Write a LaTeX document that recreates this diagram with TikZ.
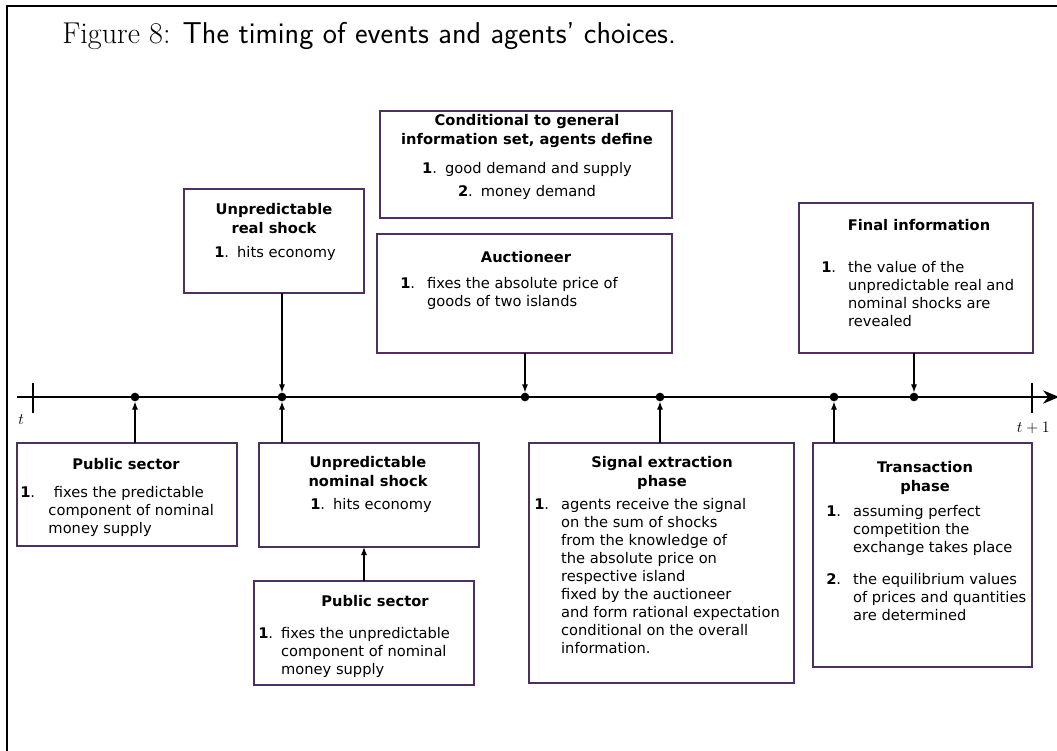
\documentclass[tikz,border=0pt]{standalone}
\usepackage{fontspec}
\newfontfamily\bodyfont{DejaVu Sans}
\usetikzlibrary{arrows.meta}
\definecolor{boxcol}{RGB}{78,48,92}
\newcommand\mybox[5]{\node[box, minimum width={(#4-#2)*0.75pt}, minimum height={(#5-#3)*0.75pt}] (#1) at ({(#2+#4)/2},{(#3+#5)/2}) {};}
\begin{document}
\begin{tikzpicture}[x=0.75pt,y=-0.75pt,
 box/.style={draw=boxcol, line width=1.1pt, inner sep=0, outer sep=0},
 dot/.style={circle, fill=black, inner sep=0, minimum size=6.5pt},
 conn/.style={line width=0.8pt, -{Latex[length=6pt,width=4.5pt]}},
 txt/.style={font=\bodyfont\fontsize{11}{13.5}\selectfont, inner sep=0, anchor=base west},
 ttl/.style={font=\bodyfont\bfseries\fontsize{11}{14.5}\selectfont, inner sep=0, anchor=base},
 ]
\useasboundingbox (0,0) rectangle (1057,750);
\draw[line width=1.5pt] (7,752) -- (7,6) -- (1059,6);
\node[anchor=base west, inner sep=0, font=\fontsize{22.6}{26}\selectfont] (title) at (62,43) {Figure 8: \textsf{The timing of events and agents' choices.}};

% timeline
\coordinate (tl0) at (17,397);
\coordinate (tl1) at (1059,397);
\draw[line width=1.3pt, -{Stealth[length=12pt,width=10pt]}] (tl0) -- (tl1);
\draw[line width=0.9pt] (33,383) -- (33,413);
\draw[line width=0.9pt] (1032,383) -- (1032,413);
\node[anchor=base west, inner sep=0, font=\fontsize{12}{14}\selectfont] (tlab) at (18,424) {$t$};
\node[anchor=base east, inner sep=0, font=\fontsize{12}{14}\selectfont] (t1lab) at (1050,432) {$t+1$};

\node[dot] (d1) at (135,397) {};
\node[dot] (d2) at (282,397) {};
\node[dot] (d3) at (525,397) {};
\node[dot] (d4) at (660,397) {};
\node[dot] (d5) at (834,397) {};
\node[dot] (d6) at (914,397) {};

% boxes
\mybox{real}{184}{189}{364}{293}
\mybox{cond}{380}{111}{672}{218}
\mybox{auct}{377}{234}{672}{353}
\mybox{final}{799}{203}{1033}{353}
\mybox{psl}{17}{443}{237}{546}
\mybox{nom}{259}{443}{479}{547}
\mybox{psu}{254}{581}{474}{685}
\mybox{sig}{529}{443}{794}{683}
\mybox{trans}{813}{443}{1032}{667}

% connectors
\draw[conn] (real.south -| d2) -- (d2);
\draw[conn] (auct.south -| d3) -- (d3);
\draw[conn] (final.south -| d6) -- (d6);
\draw[conn] (psl.north -| d1) -- (d1);
\draw[conn] (nom.north -| d2) -- (d2);
\draw[conn] (psu.north) -- (psu.north |- nom.south);
\draw[conn] (sig.north -| d4) -- (d4);
\draw[conn] (trans.north -| d5) -- (d5);

% texts
\node[ttl] (realT) at (274,214) {\begin{tabular}[t]{@{}c@{}}Unpredictable\\real shock\end{tabular}};
\node[txt] (realI) at (214,257) {\textbf{1}.\hspace{6pt}hits economy};

\node[ttl] (condT) at (527,125) {\begin{tabular}[t]{@{}c@{}}Conditional to general\\information set, agents define\end{tabular}};
\node[txt, anchor=base] (condI) at (527,173) {\begin{tabular}[t]{@{}c@{}}\textbf{1}.\hspace{6pt}good demand and supply\\[4pt]\textbf{2}.\hspace{6pt}money demand\end{tabular}};

\node[ttl] (auctT) at (526,262) {Auctioneer};
\node[txt] (auctI) at (400,288) {\begin{tabular}[t]{@{}l@{\hspace{9pt}}l@{}}\textbf{1}. & fixes the absolute price of\\ & goods of two islands\end{tabular}};

\node[ttl] (finT) at (919,230) {Final information};
\node[txt] (finI) at (821,272) {\begin{tabular}[t]{@{}l@{\hspace{9pt}}l@{}}\textbf{1}. & the value of the\\ & unpredictable real and\\ & nominal shocks are\\ & revealed\end{tabular}};

\node[ttl] (pslT) at (126,469) {Public sector};
\node[txt] (pslI) at (20,497) {\begin{tabular}[t]{@{}l@{\hspace{10pt}}l@{}}\textbf{1}. & \hspace{4pt}fixes the predictable\\ & component of nominal\\ & money supply\end{tabular}};

\node[ttl] (nomT) at (368,467) {\begin{tabular}[t]{@{}c@{}}Unpredictable\\nominal shock\end{tabular}};
\node[txt] (nomI) at (310,509) {\textbf{1}.\hspace{6pt}hits economy};

\node[ttl] (psuT) at (375,606) {Public sector};
\node[txt] (psuI) at (258,638) {\begin{tabular}[t]{@{}l@{\hspace{6pt}}l@{}}\textbf{1}. & fixes the unpredictable\\ & component of nominal\\ & money supply\end{tabular}};

\node[ttl] (sigT) at (662,467) {\begin{tabular}[t]{@{}c@{}}Signal extraction\\phase\end{tabular}};
\node[txt] (sigI) at (534,509) {\begin{tabular}[t]{@{}l@{\hspace{9pt}}l@{}}\textbf{1}. & agents receive the signal\\ & on the sum of shocks\\ & from the knowledge of\\ & the absolute price on\\ & respective island\\ & fixed by the auctioneer\\ & and form rational expectation\\ & conditional on the overall\\ & information.\end{tabular}};

\node[ttl] (trT) at (925,472) {\begin{tabular}[t]{@{}c@{}}Transaction\\phase\end{tabular}};
\node[txt] (trI1) at (826,516) {\begin{tabular}[t]{@{}l@{\hspace{9pt}}l@{}}\textbf{1}. & assuming perfect\\ & competition the\\ & exchange takes place\end{tabular}};
\node[txt] (trI2) at (826,584) {\begin{tabular}[t]{@{}l@{\hspace{9pt}}l@{}}\textbf{2}. & the equilibrium values\\ & of prices and quantities\\ & are determined\end{tabular}};
\end{tikzpicture}
\end{document}
